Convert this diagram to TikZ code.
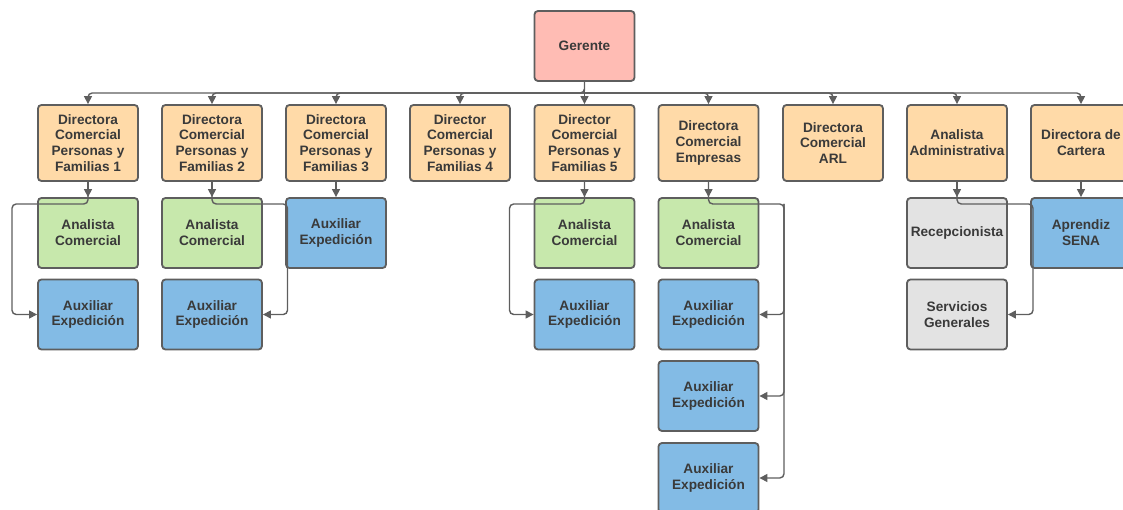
\documentclass[tikz,border=0pt]{standalone}
\usepackage{fontspec}
\setmainfont{Liberation Sans}
\usepackage{tikz}
\usetikzlibrary{arrows.meta}

\definecolor{linegray}{HTML}{5E5E5E}
\definecolor{textgray}{HTML}{3A3A3A}
\definecolor{gerpink}{HTML}{FFBCB4}
\definecolor{dirorange}{HTML}{FFDAA8}
\definecolor{anagreen}{HTML}{C7E8AC}
\definecolor{auxblue}{HTML}{83BBE5}
\definecolor{staffgray}{HTML}{E3E3E3}

\begin{document}
\begin{tikzpicture}[
    x=0.025cm, y=-0.025cm,
    unit/.style={rectangle, draw=linegray, line width=1.3pt, rounded corners=2.5pt,
                 minimum width=2.5cm, minimum height=1.75cm, inner sep=1pt,
                 align=center, text=textgray,
                 font=\bfseries\fontsize{9.7}{11.2}\selectfont},
    head/.style={unit, fill=gerpink},
    dir/.style={unit, fill=dirorange, minimum height=1.9cm},
    analyst/.style={unit, fill=anagreen},
    aux/.style={unit, fill=auxblue},
    staff/.style={unit, fill=staffgray},
    conn/.style={draw=linegray, line width=1pt, rounded corners=3pt},
    arrow/.style={conn, -{Triangle[length=0.2cm, width=0.2cm]}}
]
    \useasboundingbox (0,0) rectangle (1123,510);

    % Gerente
    \node[head] (ger) at (584.5,46) {Gerente};

    % directors
    \node[dir] (d1)   at (88,143)    {Directora\\Comercial\\Personas y\\Familias 1};
    \node[dir] (d2)   at (212,143)   {Directora\\Comercial\\Personas y\\Familias 2};
    \node[dir] (d3)   at (336,143)   {Directora\\Comercial\\Personas y\\Familias 3};
    \node[dir] (d4)   at (460,143)   {Director\\Comercial\\Personas y\\Familias 4};
    \node[dir] (d5)   at (584.5,143) {Director\\Comercial\\Personas y\\Familias 5};
    \node[dir] (demp) at (708.5,143) {Directora\\Comercial\\Empresas};
    \node[dir] (darl) at (833,143)   {Directora\\Comercial\\ARL};
    \node[dir] (adm)  at (957,143)   {Analista\\Administrativa};
    \node[dir] (cart) at (1081,143)  {Directora de\\Cartera};

    % second row
    \node[analyst] (an1)  at (88,233)    {Analista\\Comercial};
    \node[analyst] (an2)  at (212,233)   {Analista\\Comercial};
    \node[aux]     (ax3)  at (336,233)   {Auxiliar\\Expedición};
    \node[analyst] (an5)  at (584.5,233) {Analista\\Comercial};
    \node[analyst] (anemp) at (708.5,233) {Analista\\Comercial};
    \node[staff]   (recep) at (957,233)   {Recepcionista};
    \node[aux]     (sena) at (1081,233)  {Aprendiz\\SENA};

    % lower rows
    \node[aux]   (ax1)  at (88,314.5)    {Auxiliar\\Expedición};
    \node[aux]   (ax2)  at (212,314.5)   {Auxiliar\\Expedición};
    \node[aux]   (ax5)  at (584.5,314.5) {Auxiliar\\Expedición};
    \node[aux]   (axe1) at (708.5,314.5) {Auxiliar\\Expedición};
    \node[aux]   (axe2) at (708.5,396)   {Auxiliar\\Expedición};
    \node[aux]   (axe3) at (708.5,478)   {Auxiliar\\Expedición};
    \node[staff] (serv) at (957,314.5)   {Servicios\\Generales};

    % bus under Gerente
    \coordinate (bus) at (584.5,93);
    \draw[arrow] (ger.south) |- (bus) -| (d1.north);
    \draw[arrow] (bus) -| (d2.north);
    \draw[arrow] (bus) -| (d3.north);
    \draw[arrow] (bus) -| (d4.north);
    \draw[arrow] (ger.south) -- (d5.north);
    \draw[arrow] (bus) -| (demp.north);
    \draw[arrow] (bus) -| (darl.north);
    \draw[arrow] (bus) -| (adm.north);
    \draw[arrow] (bus) -| (cart.north);

    % straight down
    \draw[arrow] (d1.south)   -- (an1.north);
    \draw[arrow] (d2.south)   -- (an2.north);
    \draw[arrow] (d3.south)   -- (ax3.north);
    \draw[arrow] (d5.south)   -- (an5.north);
    \draw[arrow] (demp.south) -- (anemp.north);
    \draw[arrow] (adm.south)  -- (recep.north);
    \draw[arrow] (cart.south) -- (sena.north);

    % side branches
    \coordinate (br1) at (12,204);
    \coordinate (br2) at (287.5,204);
    \coordinate (br5) at (509.5,204);
    \coordinate (bremp) at (784,204);
    \coordinate (bradm) at (1033,204);

    \draw[arrow] (d1.south)   |- (br1)   |- (ax1.west);
    \draw[arrow] (d2.south)   |- (br2)   |- (ax2.east);
    \draw[arrow] (d5.south)   |- (br5)   |- (ax5.west);
    \draw[arrow] (demp.south) |- (bremp) |- (axe1.east);
    \draw[arrow] (bremp) |- (axe2.east);
    \draw[arrow] (bremp) |- (axe3.east);
    \draw[arrow] (adm.south)  |- (bradm) |- (serv.east);

\end{tikzpicture}
\end{document}
